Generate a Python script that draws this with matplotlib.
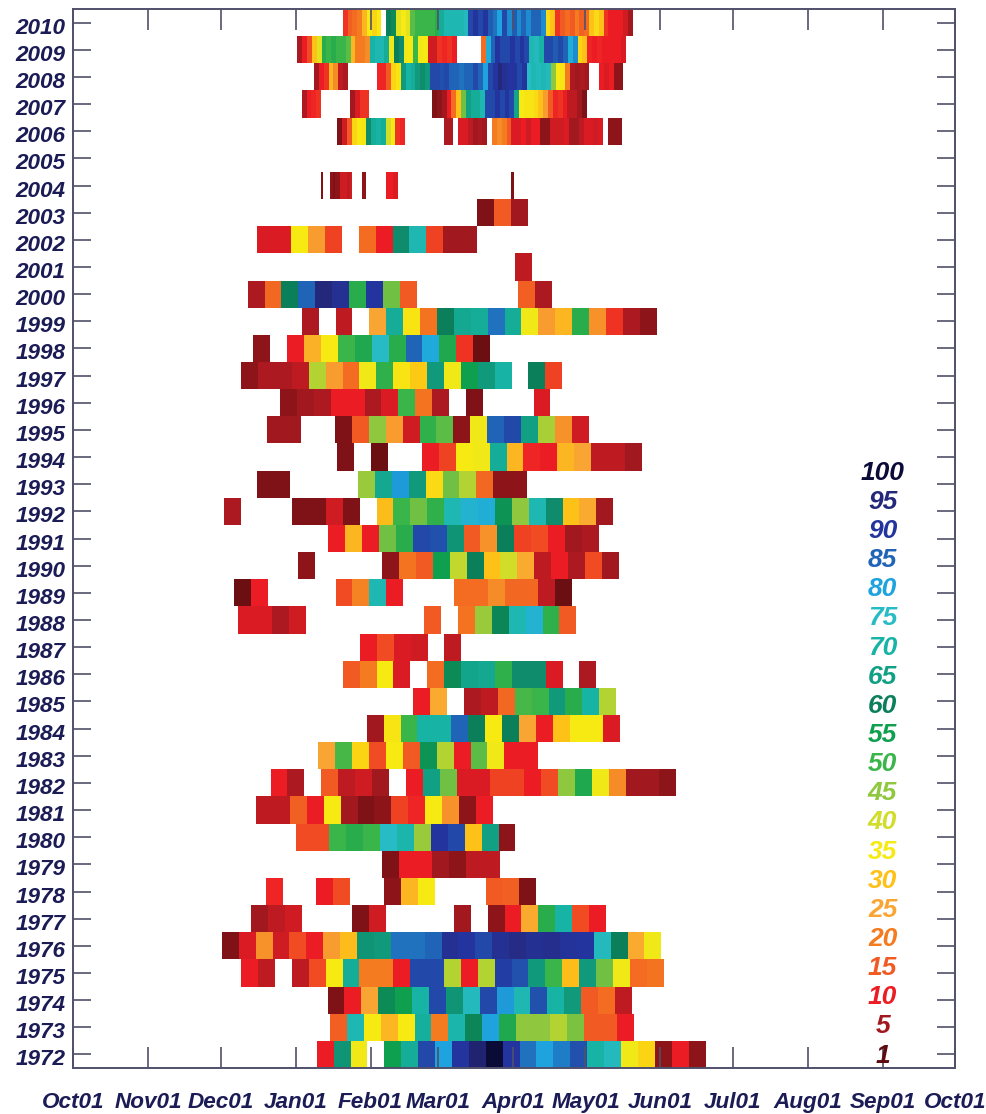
import numpy as np
import matplotlib
matplotlib.use('Agg')
import matplotlib.pyplot as plt
from matplotlib.colors import LinearSegmentedColormap, Normalize
from matplotlib.font_manager import FontProperties
from matplotlib.transforms import ScaledTranslation

_ = None

# percent values per year, one cell = step days, None = no data
v2010 = [12,16,18,20,28,35,32,35,_,60,58,38,35,38,48,50,50,50,50,52,68,72,72,72,72,74,88,90,88,90,86,84,80,88,82,86,82,85,82,85,85,82,33,30,12,15,18,15,20,16,18,30,33,30,12,10,10,10,8,5]
v2009 = [6,10,14,30,38,52,50,52,50,50,48,28,20,20,22,70,72,72,68,36,60,62,36,35,50,36,35,8,8,12,11,12,10,_,_,_,_,_,18,78,85,90,88,88,90,88,90,88,72,74,70,88,88,86,88,85,78,82,32,30,11,10,11,10,10,10,10,9]
v2008 = [5,10,12,28,22,7,6,_,_,_,_,_,_,11,11,15,32,34,64,70,68,64,62,64,88,88,87,88,85,85,84,85,85,88,85,80,88,90,95,92,90,90,88,90,75,72,74,72,74,45,35,34,20,6,5,6,5,_,_,10,9,10,4,4]
v2007 = [6,10,11,12,_,_,_,_,_,_,5,9,12,12,_,_,_,_,_,_,_,_,_,_,_,_,_,3,4,5,10,18,30,47,65,68,68,72,88,88,90,88,90,88,66,35,34,34,33,30,24,15,11,12,10,7,7,5,3]
v2006 = [3,8,15,32,35,34,62,68,70,68,40,35,12,11,_,_,_,_,_,_,_,_,6,6,_,9,9,7,5,6,5,_,20,22,20,15,9,9,10,8,10,10,4,4,8,8,8,9,5,5,7,9,9,8,9,_,4,4,4]
v2005 = []
v2004 = [3,_,_,_,4,3,4,4,8,8,8,7,8,_,_,_,_,4,4,_,_,_,_,_,_,_,_,10,10,10,9,9] + [_] * 47 + [3]
v2003 = [3,15,5]
v2002 = [9,9,35,24,13,_,18,10,62,72,13,5,5]
v2001 = [7]
v2000 = [6,17,60,85,95,92,52,90,47,15,_,_,_,_,_,_,16,6]
v1999 = [6,_,7,_,25,68,34,19,60,67,68,84,68,36,24,28,52,23,12,6,4]
v1998 = [4,_,10,27,35,50,53,75,52,85,79,53,12,2]
v1997 = [4,6,6,7,42,24,18,36,51,34,31,64,36,55,64,70,_,60,13]
v1996 = [4,5,6,10,10,6,9,50,19,6,_,3,_,_,_,9]
v1995 = [5,5,_,_,3,15,45,24,8,51,48,4,36,85,88,65,43,23,8]
v1994 = [3,_,2,_,_,10,13,35,36,68,28,11,10,28,25,7,7,5]
v1993 = [3,3,_,_,_,_,44,67,81,64,33,47,42,17,4,4]
v1992 = [6,_,_,_,3,3,8,3,_,29,50,47,51,72,77,78,57,45,72,62,30,26,5]
v1991 = [10,28,10,47,52,88,87,63,15,23,60,13,14,10,5,6]
v1990 = [4,_,_,_,_,4,19,15,55,41,60,30,40,26,7,10,6,14,5]
v1989 = [2,10,_,_,_,_,14,21,72,10,_,_,_,18,18,22,17,17,7,2]
v1988 = [9,9,6,8,_,_,_,_,_,_,_,15,_,19,44,59,72,77,51,15]
v1987 = [10,14,9,8,_,7]
v1986 = [15,20,35,9,_,18,58,66,67,51,62,62,9,_,6]
v1985 = [10,26,_,6,7,17,49,50,64,52,70,42]
v1984 = [5,34,50,70,70,85,60,35,60,25,10,30,35,35,9]
v1983 = [25,49,32,14,35,15,57,42,10,48,36,10,10]
v1982 = [10,6,_,15,7,8,5,_,10,65,47,9,9,13,13,10,14,45,53,36,22,5,5,4]
v1981 = [7,7,16,10,35,5,3,4,13,11,35,23,4,10]
v1980 = [14,14,50,52,50,75,71,44,90,88,30,65,4]
v1979 = [3,10,10,5,4,7,7]
v1978 = [11,_,_,10,14,_,_,4,28,35,_,_,_,15,16,3]
v1977 = [5,7,8,_,_,_,3,8,_,_,_,_,5,_,4,10,26,52,70,14,10]
v1976 = [3,9,23,8,14,10,24,29,63,64,84,84,85,92,90,88,92,94,92,93,91,90,74,60,26,36]
v1975 = [10,7,_,7,14,35,68,20,20,10,88,88,42,10,42,89,87,64,50,29,64,47,36,18,19]
v1974 = [3,10,25,58,55,70,88,63,74,88,81,72,87,70,64,15,18,7]
v1973 = [16,72,35,28,35,69,20,71,59,80,53,45,45,42,46,15,15,10]
v1972 = [10,63,36,_,55,68,88,80,90,96,100,90,84,80,83,87,70,74,36,32,4,10,4]

rows = [v2010,v2009,v2008,v2007,v2006,v2005,v2004,v2003,v2002,v2001,
        v2000,v1999,v1998,v1997,v1996,v1995,v1994,v1993,v1992,v1991,
        v1990,v1989,v1988,v1987,v1986,v1985,v1984,v1983,v1982,v1981,
        v1980,v1979,v1978,v1977,v1976,v1975,v1974,v1973,v1972]
years = list(range(2010, 1971, -1))

# first day of each row, counted from Oct 1
first_day = [111.5,92.7,99.6,94.5,109.3,0,102.3,167,76.1,182.8,
             72.1,94.5,74.5,69.4,85.5,80.3,109.3,75.8,62.5,105.5,
             92.8,66.5,68.2,118.6,111.5,140.7,121.4,101.4,81.6,75.6,
             92,127.6,79.6,73.5,61.4,69.4,105.2,106.2,100.7]
cell_days = [2,2,2,2,2,7,1] + [7] * 32

month_days = [0,31,61,92,123,151,182,212,243,273,304,335,365]
month_labels = ['Oct01','Nov01','Dec01','Jan01','Feb01','Mar01','Apr01',
                'May01','Jun01','Jul01','Aug01','Sep01','Oct01']

scale_levels = [100,95,90,85,80,75,70,65,60,55,50,45,40,35,30,25,20,15,10,5,1]

level_values = [1,5,10,15,20,25,30,35,40,45,50,55,60,65,70,75,80,85,90,95,100]
level_colors = ['#5e0c10','#a3191f','#ed1c24','#f15a22','#f47b20','#f9a533','#fdc315',
                '#f7ec13','#d0dc2a','#8dc63f','#39b54a','#0e9f4f','#0b7f5a','#12a085',
                '#17b3a3','#27bcc4','#1ea6e0','#2066b8','#2335a0','#262a80','#0b0b38']

norm = Normalize(1, 100)
cmap = LinearSegmentedColormap.from_list(
    'pct', [(norm(v), c) for v, c in zip(level_values, level_colors)], N=256)

text_color = '#1b1b55'
line_color = '#50506a'

fig = plt.figure(figsize=(9.87, 11.14), dpi=100)
ax = fig.add_axes([73.5/987, 1 - 1068/1114, (955 - 73.5)/987, (1068 - 9)/1114])

for year, vals, start, step in zip(years, rows, first_day, cell_days):
    if len(vals) == 0:
        continue
    edges = start + step * np.arange(len(vals) + 1)
    z = np.array([vals], dtype=float)
    ax.pcolormesh(edges, [year - 0.5, year + 0.5], z, cmap=cmap, norm=norm)

ax.set_xlim(0, 365)
ax.set_ylim(1971.5, 2010.5)
ax.set_xticks(month_days)
ax.set_xticklabels(month_labels)
ax.set_yticks(years)
ax.set_yticklabels([str(y) for y in years])

ax.tick_params(axis='x', direction='in', top=True, length=15, width=1.2, color=line_color, pad=17)
ax.tick_params(axis='y', direction='in', right=True, length=13, width=1.2, color=line_color, pad=6)

font = {'family': 'Liberation Sans', 'weight': 'bold', 'style': 'italic'}
down = ScaledTranslation(0, -3 / 100, fig.dpi_scale_trans)
for lab in ax.get_xticklabels():
    lab.set_fontproperties(FontProperties(size=16.2, **font))
    lab.set_color(text_color)
for lab in ax.get_yticklabels():
    lab.set_fontproperties(FontProperties(size=16.2, **font))
    lab.set_color(text_color)
    lab.set_transform(lab.get_transform() + down)

for s in ax.spines.values():
    s.set_color(line_color)
    s.set_linewidth(1.4)

# colour scale written as numbers
for i, lev in enumerate(scale_levels):
    ax.text(335, 1993.42 - i * 1.073, str(lev), color=cmap(norm(lev)), fontsize=19,
            ha='center', va='center', **font)

fig.savefig('out.png', dpi=100)
